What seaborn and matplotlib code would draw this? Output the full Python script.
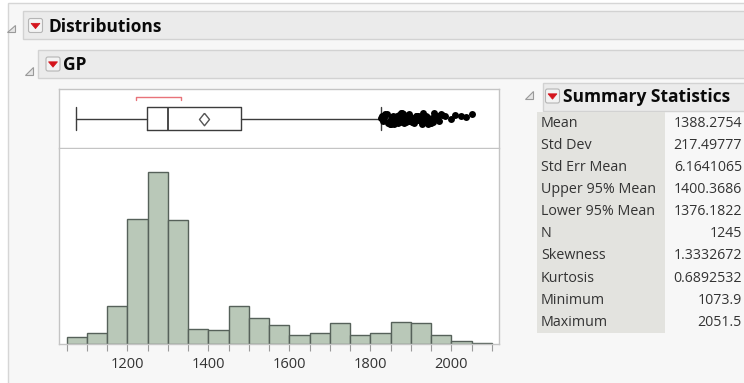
import numpy as np
import pandas as pd
import matplotlib
matplotlib.use("Agg")
import matplotlib.pyplot as plt
import seaborn as sns
from matplotlib.patches import Rectangle, Polygon, FancyBboxPatch

# ---------------- data ----------------
bin_edges = [1050, 1100, 1150, 1200, 1250, 1300, 1350, 1400, 1450, 1500, 1550,
             1600, 1650, 1700, 1750, 1800, 1850, 1900, 1950, 2000, 2050, 2100]
bin_counts = [12, 19, 67, 218, 301, 217, 27, 25, 67, 46, 34,
              17, 20, 37, 17, 20, 39, 37, 17, 6, 2]

x_tick_values = [1200, 1400, 1600, 1800, 2000]
x_tick_labels = ["1200", "1400", "1600", "1800", "2000"]

box_q1 = 1249.0
box_median = 1301.0
box_q3 = 1481.0
whisker_low = 1073.9
whisker_high = 1826.0
mean_value = 1388.2754
shortest_half = [1221.0, 1332.5]

outliers = [1827.3, 1829.8, 1832.5, 1835.0, 1837.4, 1840.1, 1842.6, 1845.2, 1847.9,
            1850.6, 1851.9, 1853.0, 1854.6, 1855.4, 1857.1, 1858.3, 1859.2, 1860.9, 1862.2,
            1863.0, 1864.7, 1865.6, 1867.3, 1868.1, 1869.9, 1870.5, 1872.4, 1873.1, 1874.8,
            1875.7, 1877.5, 1878.2, 1879.9, 1881.3, 1882.0, 1883.8, 1884.5, 1886.2, 1887.6,
            1888.3, 1889.9, 1891.4, 1892.1, 1893.9, 1894.6, 1896.4, 1897.1, 1898.8,
            1900.7, 1902.3, 1903.6, 1905.1, 1906.9, 1908.2, 1909.7, 1911.4, 1912.8, 1914.1,
            1915.9, 1917.3, 1918.6, 1920.4, 1921.7, 1923.2, 1924.9, 1926.1, 1927.8, 1929.3,
            1930.6, 1932.4, 1933.7, 1935.2, 1936.9, 1938.1, 1939.8, 1941.3, 1942.6, 1944.4,
            1945.7, 1947.2, 1948.9, 1951.3, 1954.6, 1957.2, 1960.1, 1963.4, 1966.8, 1970.2,
            1973.5, 1976.1, 1984.2, 1999.6, 2008.3, 2024.7, 2035.1, 2051.5]

stat_names = ["Mean", "Std Dev", "Std Err Mean", "Upper 95% Mean", "Lower 95% Mean",
              "N", "Skewness", "Kurtosis", "Minimum", "Maximum"]
stat_values = ["1388.2754", "217.49777", "6.1641065", "1400.3686", "1376.1822",
               "1245", "1.3332672", "0.6892532", "1073.9", "2051.5"]

# ---------------- style ----------------
sns.set_theme(style="white")
plt.rcParams["font.family"] = ["Open Sans", "DejaVu Sans"]

W, H = 744, 383
fig = plt.figure(figsize=(W / 100, H / 100), dpi=100)
fig.patch.set_facecolor("white")

bg = fig.add_axes([0, 0, 1, 1])
bg.set_xlim(0, W)
bg.set_ylim(H, 0)
bg.axis("off")

PANEL = "#f7f7f7"
HEAD = "#ebebeb"
HEAD_EDGE = "#d2d2d2"

# outer panel
bg.add_patch(Rectangle((8.3, 3.3), W, H, fc=PANEL, ec="#d6d6d6", lw=1))


def disclosure(cx, cy):
    s = 7.5
    bg.add_patch(Polygon([(cx - s / 2, cy + s / 2), (cx + s / 2, cy + s / 2), (cx + s / 2, cy - s / 2)],
                         closed=True, fc="#e6e6e6", ec="#9a9a9a", lw=0.8))


def red_button(cx, cy):
    s = 14
    bg.add_patch(FancyBboxPatch((cx - s / 2, cy - s / 2), s, s, boxstyle="round,pad=0,rounding_size=2",
                                fc="#f3f3f3", ec="#b5b5b5", lw=0.8))
    bg.add_patch(Polygon([(cx - 4.5, cy - 2.2), (cx + 4.5, cy - 2.2), (cx, cy + 3.2)],
                         closed=True, fc="#d4141c", ec="#d4141c", lw=0.5))


def header(x0, y0, y1, tri_c, btn_c, text, tx, ty, fs):
    bg.add_patch(Rectangle((x0, y0), W - x0 + 10, y1 - y0, fc=HEAD, ec=HEAD_EDGE, lw=1))
    disclosure(*tri_c)
    red_button(*btn_c)
    bg.text(tx, ty, text, fontsize=fs, fontweight="bold", color="#0a0a0a", va="baseline", ha="left")


header(22.7, 11, 39, (11, 28.5), (35.5, 25.5), "Distributions", 48, 32.5, 12.5)
header(38.3, 50, 78, (29, 71), (53, 64), "GP", 63, 70.5, 12.5)
header(542.7, 83.3, 111, (529, 95), (552.5, 96), "Summary Statistics", 563, 102, 12.5)

# summary table
bg.add_patch(Rectangle((536.7, 111.7), 665 - 536.7, 333 - 111.7, fc="#e3e3df", ec="none"))
row_y = [123.3, 145.4, 167.5, 189.6, 211.7, 233.8, 255.9, 278.0, 300.1, 322.2]
for name, val, yy in zip(stat_names, stat_values, row_y):
    bg.text(541, yy, name, fontsize=10.3, color="#333333", va="center", ha="left")
    bg.text(742, yy, val, fontsize=10.2, color="#333333", va="center", ha="right")


def px_axes(x0, y0, x1, y1):
    return fig.add_axes([x0 / W, 1 - y1 / H, (x1 - x0) / W, (y1 - y0) / H])


XL = (1031.3, 2118.5)
SPINE = "#c4c4c4"

# ---------------- box plot ----------------
ax_box = px_axes(59, 89.3, 499.3, 147.7)
ax_box.set_facecolor("white")
np.random.seed(3)
sns.stripplot(x=outliers, ax=ax_box, color="black", size=5.0, jitter=0.2,
              orient="h", linewidth=0, zorder=3)
ax_box.set_ylim(-1, 1)
ax_box.set_xlim(*XL)

stats = [{"med": box_median, "q1": box_q1, "q3": box_q3, "whislo": whisker_low,
          "whishi": whisker_high, "mean": mean_value, "fliers": []}]
lc = "#3c3c3c"
diamond = [(0, 1), (0.8, 0), (0, -1), (-0.8, 0), (0, 1)]
ax_box.bxp(stats, positions=[0], widths=0.81, orientation="horizontal", showmeans=True,
           manage_ticks=False, capwidths=0.81,
           boxprops=dict(color=lc, lw=1.0),
           whiskerprops=dict(color=lc, lw=1.0),
           capprops=dict(color=lc, lw=1.0),
           medianprops=dict(color=lc, lw=1.3),
           meanprops=dict(marker=diamond, markersize=9, markerfacecolor="none",
                          markeredgecolor="#555555", markeredgewidth=1.0))
ax_box.plot([shortest_half[0], shortest_half[0], shortest_half[1], shortest_half[1]],
            [0.63, 0.75, 0.75, 0.63], color="#e8737a", lw=1.0)
ax_box.set_xticks([])
ax_box.set_yticks([])
ax_box.set_xlabel("")
ax_box.set_ylabel("")
for sp in ax_box.spines.values():
    sp.set_color(SPINE)
    sp.set_linewidth(1)

# ---------------- histogram ----------------
ax_hist = px_axes(59, 148.5, 499.3, 344.3)
ax_hist.set_facecolor("white")
edges = np.array(bin_edges, dtype=float)
df = pd.DataFrame({"GP": (edges[:-1] + edges[1:]) / 2, "count": bin_counts})
sns.histplot(data=df, x="GP", weights="count", bins=bin_edges, ax=ax_hist,
             color="#b9c8b8", edgecolor="#56615a", linewidth=1.0, alpha=1)
ax_hist.set_xlim(*XL)
ax_hist.set_ylim(0, 341.5)
ax_hist.set_yticks([])
ax_hist.set_xticks(x_tick_values)
ax_hist.set_xticklabels(x_tick_labels)
ax_hist.set_xticks(bin_edges, minor=True)
ax_hist.tick_params(axis="x", which="both", direction="out", length=5, width=0.8,
                    color="#9a9a9a", bottom=True)
ax_hist.tick_params(axis="x", which="major", labelsize=10.5, labelcolor="#333333", pad=4)
ax_hist.set_xlabel("")
ax_hist.set_ylabel("")
for sp in ax_hist.spines.values():
    sp.set_color(SPINE)
    sp.set_linewidth(1)
ax_hist.spines["top"].set_visible(False)

fig.savefig("out.png", dpi=100, facecolor=fig.get_facecolor())
